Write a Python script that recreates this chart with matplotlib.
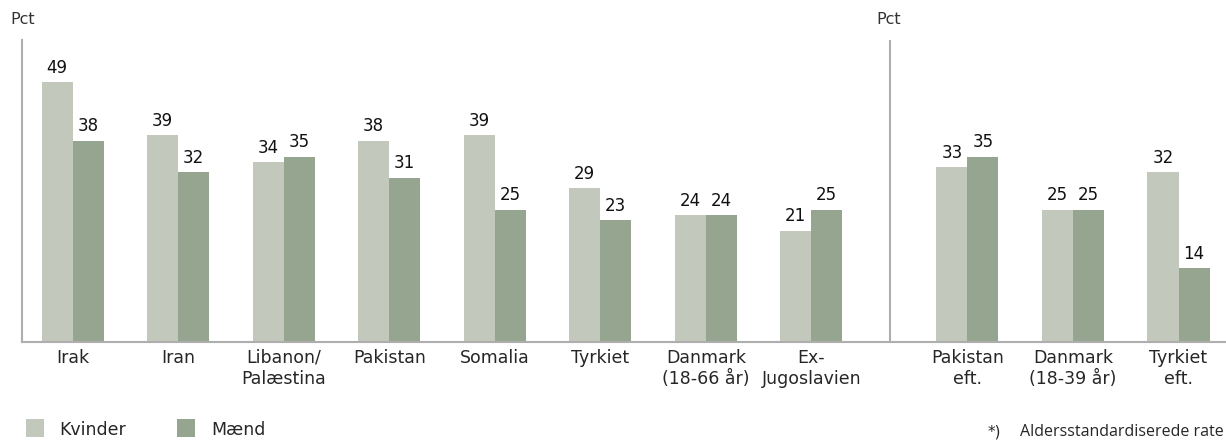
import numpy as np
import matplotlib
matplotlib.use("Agg")
import matplotlib.pyplot as plt
from matplotlib.patches import Rectangle

plt.rcParams['font.family'] = ['DejaVu Sans']

categories_left = ["Irak", "Iran", "Libanon/\nPalæstina", "Pakistan", "Somalia",
                   "Tyrkiet", "Danmark\n(18-66 år)", "Ex-\nJugoslavien"]
kvinder_left = [49, 39, 34, 38, 39, 29, 24, 21]
maend_left = [38, 32, 35, 31, 25, 23, 24, 25]

categories_right = ["Pakistan\neft.", "Danmark\n(18-39 år)", "Tyrkiet\neft."]
kvinder_right = [33, 25, 32]
maend_right = [35, 25, 14]

series_names = ["Kvinder", "Mænd"]
footnote = "Aldersstandardiserede rate"

c_k = "#C3C8BC"
c_m = "#96A58F"
axis_c = "#AEAEAE"
txt_c = "#262626"

W, H = 1226, 441
fig = plt.figure(figsize=(W / 100, H / 100), dpi=100)
x0, y0, y1 = 22, 342, 40
ax = fig.add_axes([x0 / W, (H - y0) / H, (W - x0) / W, (y0 - y1) / H])

pos_left = np.arange(len(categories_left))
pos_right = 8.48 + np.arange(len(categories_right))
pos = np.concatenate([pos_left, pos_right])
kv = kvinder_left + kvinder_right
ma = maend_left + maend_right
cats = categories_left + categories_right

bw = 0.294
ax.bar(pos - bw / 2, kv, bw, color=c_k, linewidth=0)
ax.bar(pos + bw / 2, ma, bw, color=c_m, linewidth=0)

for p, a, b in zip(pos, kv, ma):
    ax.text(p - bw / 2, a + 1.0, str(a), ha='center', va='bottom', fontsize=12,
            color='#111111')
    ax.text(p + bw / 2, b + 1.0, str(b), ha='center', va='bottom', fontsize=12,
            color='#111111')

ax.set_xlim(-0.48, 10.93)
ax.set_ylim(0, 57)
ax.set_yticks([])
ax.set_xticks(pos)
ax.set_xticklabels(cats, fontsize=12.5, color=txt_c, linespacing=1.2)
ax.tick_params(axis='x', length=0, pad=5)
for s in ['top', 'right']:
    ax.spines[s].set_visible(False)
for s in ['left', 'bottom']:
    ax.spines[s].set_color(axis_c)
    ax.spines[s].set_linewidth(1.5)
ax.axvline(7.75, color=axis_c, linewidth=1.5)

fig.text(10 / W, 1 - 20 / H, "Pct", fontsize=11.5, color='#333333', va='center', ha='left')
fig.text(876 / W, 1 - 20 / H, "Pct", fontsize=11.5, color='#333333', va='center', ha='left')

# legend
for xx, col, name, tx in [(26, c_k, series_names[0], 59), (177, c_m, series_names[1], 211)]:
    fig.patches.append(Rectangle((xx / W, (H - 437) / H), 18 / W, 18 / H,
                                 transform=fig.transFigure, color=col, linewidth=0))
    fig.text(tx / W, 1 - 430 / H, name, fontsize=12.5, color=txt_c, va='center', ha='left')

fig.text(988 / W, 1 - 432 / H, "*)", fontsize=11, color=txt_c, va='center', ha='left')
fig.text(1020 / W, 1 - 432 / H, footnote, fontsize=11.5, color=txt_c, va='center', ha='left',
         family=['Open Sans', 'DejaVu Sans'])

fig.savefig("out.png", dpi=100)
